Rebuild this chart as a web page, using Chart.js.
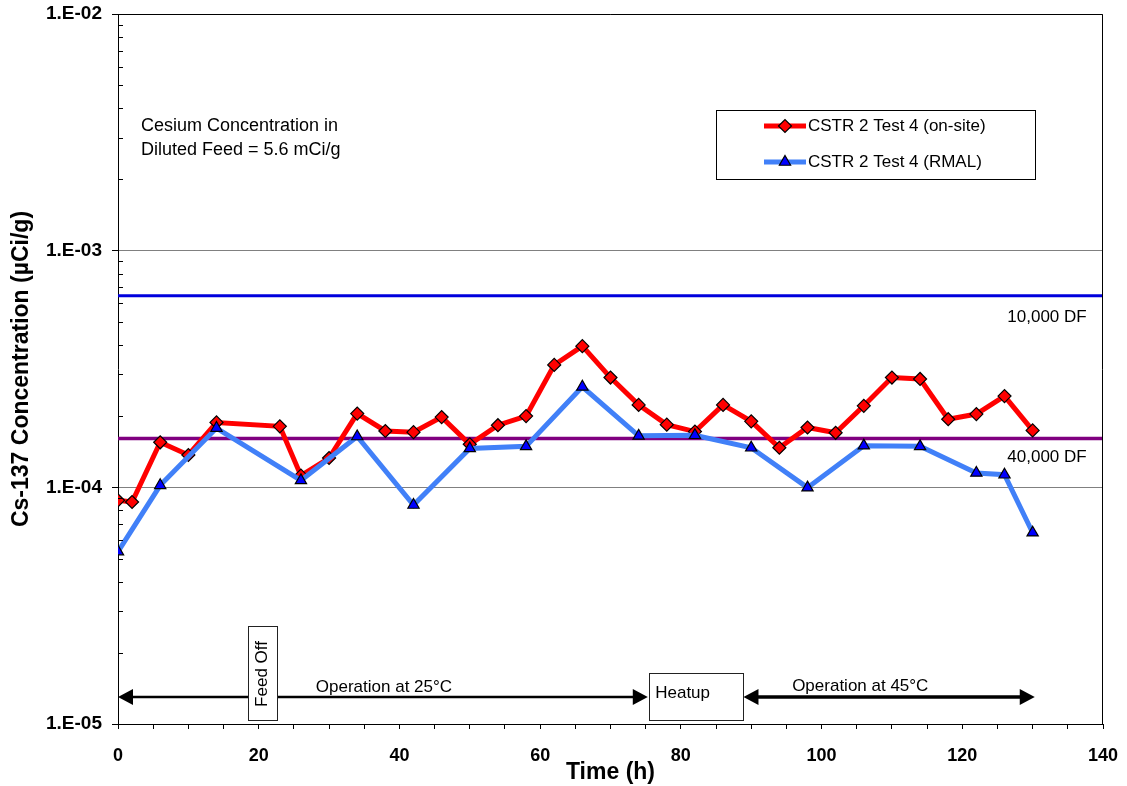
<!DOCTYPE html>
<html>
<head>
<meta charset="utf-8">
<title>Cs-137 Concentration - CSTR 2 Test 4</title>
<script src="https://cdn.jsdelivr.net/npm/chart.js@4.4.0/dist/chart.umd.min.js"></script>
<style>
    body { margin: 0; background: #fff; }
    #wrap { width: 1127px; height: 786px; }
</style>
</head>
<body>
<div id="wrap"><canvas id="chart" width="1127" height="786"></canvas></div>
<script>
// Sample times (h) and Cs-137 concentrations (uCi/g)
const hoursOnsite = [0, 2, 6, 10, 14, 23, 26, 30, 34, 38, 42, 46, 50, 54, 58, 62, 66,
    70, 74, 78, 82, 86, 90, 94, 98, 102, 106, 110, 114, 118, 122, 126, 130];
const onsite = [8.81e-5, 8.67e-5, 1.55e-4, 1.37e-4, 1.88e-4, 1.81e-4, 1.12e-4, 1.33e-4,
    2.05e-4, 1.73e-4, 1.71e-4, 1.98e-4, 1.52e-4, 1.83e-4, 2.00e-4, 3.29e-4, 3.95e-4,
    2.91e-4, 2.23e-4, 1.84e-4, 1.72e-4, 2.23e-4, 1.90e-4, 1.47e-4, 1.79e-4, 1.70e-4,
    2.21e-4, 2.91e-4, 2.87e-4, 1.94e-4, 2.04e-4, 2.43e-4, 1.74e-4];

const hoursRmal = [0, 6, 14, 26, 34, 42, 50, 58, 66, 74, 82, 90, 98, 106, 114, 122, 126, 130];
const rmal = [5.35e-5, 1.02e-4, 1.78e-4, 1.07e-4, 1.64e-4, 8.42e-5, 1.46e-4, 1.49e-4,
    2.66e-4, 1.65e-4, 1.66e-4, 1.47e-4, 9.97e-5, 1.50e-4, 1.49e-4, 1.15e-4, 1.13e-4, 6.43e-5];

const seriesNames = ['CSTR 2 Test 4 (on-site)', 'CSTR 2 Test 4 (RMAL)'];

// decontamination factor reference levels
const dfLevels = [6.45e-4, 1.61e-4];
const dfNames = ['10,000 DF', '40,000 DF'];

const yTicks = [1e-5, 1e-4, 1e-3, 1e-2];
const yTickLabels = ['1.E-05', '1.E-04', '1.E-03', '1.E-02'];
const xMin = 0, xMax = 140;

const FONT = "'Liberation Sans', Arial, sans-serif";
const RED = '#FF0000';
const BLUE_LINE = '#4180F8';
const BLUE_MARK = '#0000FF';
const DF_COLORS = ['#0000DD', '#800080'];

function toPoints(xs, ys) {
    return xs.map((x, i) => ({ x: x, y: ys[i] }));
}

// Extra drawing: frame, minor ticks, notes, arrows and the legend box
const decorPlugin = {
    id: 'decor',
    afterDraw(chart) {
        const ctx = chart.ctx;
        const a = chart.chartArea;
        const xs = chart.scales.x, ys = chart.scales.y;
        const px = v => xs.getPixelForValue(v);
        const py = v => ys.getPixelForValue(v);
        ctx.save();

        // top and right frame
        ctx.strokeStyle = '#000';
        ctx.lineWidth = 1;
        ctx.beginPath();
        ctx.moveTo(Math.round(a.left) + 0.5, Math.round(a.top) + 0.5);
        ctx.lineTo(Math.round(a.right) - 0.5, Math.round(a.top) + 0.5);
        ctx.lineTo(Math.round(a.right) - 0.5, Math.round(a.bottom));
        ctx.stroke();

        // minor log ticks, inside the axis
        ctx.beginPath();
        for (let d = 0; d < yTicks.length - 1; d++) {
            for (let m = 2; m <= 9; m++) {
                const yy = Math.round(py(yTicks[d] * m)) + 0.5;
                ctx.moveTo(a.left, yy);
                ctx.lineTo(a.left + 5, yy);
            }
        }
        ctx.stroke();

        ctx.fillStyle = '#000';
        ctx.textBaseline = 'middle';

        // DF labels
        ctx.font = '17px ' + FONT;
        ctx.textAlign = 'left';
        ctx.fillText(dfNames[0], px(126.4), py(dfLevels[0]) + 22);
        ctx.fillText(dfNames[1], px(126.4), py(dfLevels[1]) + 19);

        // feed note
        ctx.font = '18px ' + FONT;
        ctx.fillText('Cesium Concentration in', 141, 126);
        ctx.fillText('Diluted Feed = 5.6 mCi/g', 141, 150);

        // arrows
        function arrow(x1, x2, y, lw) {
            const head = 15, half = 8;
            ctx.lineWidth = lw;
            ctx.beginPath();
            ctx.moveTo(x1 + head - 2, y);
            ctx.lineTo(x2 - head + 2, y);
            ctx.stroke();
            ctx.beginPath();
            ctx.moveTo(x1, y);
            ctx.lineTo(x1 + head, y - half);
            ctx.lineTo(x1 + head, y + half);
            ctx.closePath();
            ctx.moveTo(x2, y);
            ctx.lineTo(x2 - head, y - half);
            ctx.lineTo(x2 - head, y + half);
            ctx.closePath();
            ctx.fill();
        }
        const arrowY = py(1.30e-5);
        arrow(px(0), px(75.3), arrowY, 2.5);
        arrow(px(88.9), px(130.3), arrowY, 3.5);

        ctx.font = '17px ' + FONT;
        ctx.textAlign = 'center';
        ctx.fillText('Operation at 25°C', px(37.8), arrowY - 10);
        ctx.fillText('Operation at 45°C', px(105.5), arrowY - 11);

        // boxes
        ctx.lineWidth = 1;
        ctx.strokeStyle = '#222';
        ctx.fillStyle = '#fff';
        const fx1 = px(18.5), fx2 = px(22.6), fy1 = 626, fy2 = 720;
        ctx.fillRect(fx1, fy1, fx2 - fx1, fy2 - fy1);
        ctx.strokeRect(Math.round(fx1) + 0.5, fy1 + 0.5, Math.round(fx2 - fx1), fy2 - fy1);
        const hx1 = px(75.5), hx2 = px(88.8), hy1 = 673, hy2 = 720;
        ctx.fillRect(hx1, hy1, hx2 - hx1, hy2 - hy1);
        ctx.strokeRect(Math.round(hx1) + 0.5, hy1 + 0.5, Math.round(hx2 - hx1), hy2 - hy1);

        ctx.fillStyle = '#000';
        ctx.textAlign = 'left';
        ctx.fillText('Heatup', hx1 + 6, 693);
        ctx.save();
        ctx.translate((fx1 + fx2) / 2, 674);
        ctx.rotate(-Math.PI / 2);
        ctx.textAlign = 'center';
        ctx.fillText('Feed Off', 0, 0);
        ctx.restore();

        // legend
        const lx = 716, ly = 110, lw = 319, lh = 69;
        ctx.fillStyle = '#fff';
        ctx.fillRect(lx, ly, lw, lh);
        ctx.strokeStyle = '#000';
        ctx.strokeRect(lx + 0.5, ly + 0.5, lw, lh);
        const rows = [
            { y: 126, line: RED, fill: RED, style: 'rectRot', r: 6.5 },
            { y: 162, line: BLUE_LINE, fill: BLUE_MARK, style: 'triangle', r: 6.5 }
        ];
        ctx.font = '17px ' + FONT;
        rows.forEach((row, i) => {
            ctx.strokeStyle = row.line;
            ctx.lineWidth = 5;
            ctx.beginPath();
            ctx.moveTo(764, row.y);
            ctx.lineTo(806, row.y);
            ctx.stroke();
            ctx.fillStyle = row.fill;
            ctx.strokeStyle = '#000';
            ctx.lineWidth = 1.2;
            Chart.helpers.drawPoint(ctx, { pointStyle: row.style, radius: row.r, borderWidth: 1.2, rotation: 0 }, 785, row.y);
            ctx.fillStyle = '#000';
            ctx.textAlign = 'left';
            ctx.fillText(seriesNames[i], 808, row.y);
        });

        ctx.restore();
    }
};

new Chart(document.getElementById('chart'), {
    type: 'line',
    data: {
        datasets: [
            {
                label: seriesNames[1],
                data: toPoints(hoursRmal, rmal),
                borderColor: BLUE_LINE,
                borderWidth: 5,
                pointStyle: 'triangle',
                pointRadius: 6.5,
                pointBackgroundColor: BLUE_MARK,
                pointBorderColor: '#000',
                pointBorderWidth: 1.2,
                tension: 0,
                order: 0
            },
            {
                label: seriesNames[0],
                data: toPoints(hoursOnsite, onsite),
                borderColor: RED,
                borderWidth: 5,
                pointStyle: 'rectRot',
                pointRadius: 6.5,
                pointBackgroundColor: RED,
                pointBorderColor: '#000',
                pointBorderWidth: 1.2,
                tension: 0,
                order: 1
            },
            {
                label: dfNames[0],
                data: [{ x: xMin, y: dfLevels[0] }, { x: xMax, y: dfLevels[0] }],
                borderColor: DF_COLORS[0],
                borderWidth: 3,
                pointRadius: 0,
                order: 2
            },
            {
                label: dfNames[1],
                data: [{ x: xMin, y: dfLevels[1] }, { x: xMax, y: dfLevels[1] }],
                borderColor: DF_COLORS[1],
                borderWidth: 3.5,
                pointRadius: 0,
                order: 3
            }
        ]
    },
    options: {
        responsive: false,
        animation: false,
        layout: { padding: { top: 14, right: 24, left: 0, bottom: 0 } },
        plugins: {
            legend: { display: false },
            tooltip: { enabled: false }
        },
        scales: {
            x: {
                type: 'linear',
                min: xMin,
                max: xMax,
                afterFit: function(scale) {
                    scale.height = 62;
                    scale.paddingLeft = 0;
                    scale.paddingRight = 0;
                },
                ticks: {
                    stepSize: 5,
                    autoSkip: false,
                    maxRotation: 0,
                    padding: 16,
                    color: '#000',
                    font: { family: FONT, size: 18, weight: 'bold' },
                    callback: function(value) {
                        return value % 20 === 0 ? String(value) : '';
                    }
                },
                grid: {
                    drawOnChartArea: false,
                    drawTicks: true,
                    tickLength: 5,
                    tickColor: '#000'
                },
                border: { display: true, color: '#000', width: 1 },
                title: {
                    display: true,
                    text: 'Time (h)',
                    color: '#000',
                    font: { family: FONT, size: 23, weight: 'bold' },
                    padding: { top: 0, bottom: 0 }
                }
            },
            y: {
                type: 'logarithmic',
                min: yTicks[0],
                max: yTicks[yTicks.length - 1],
                afterFit: function(scale) {
                    scale.width = 118;
                    scale.paddingTop = 0;
                    scale.paddingBottom = 0;
                },
                afterBuildTicks: function(scale) {
                    scale.ticks = yTicks.map(v => ({ value: v }));
                },
                ticks: {
                    padding: 10,
                    color: '#000',
                    font: { family: FONT, size: 19, weight: 'bold' },
                    callback: function(value) {
                        const i = yTicks.findIndex(t => Math.abs(t - value) / t < 1e-6);
                        return i >= 0 ? yTickLabels[i] : '';
                    }
                },
                grid: {
                    color: '#808080',
                    lineWidth: 1,
                    drawTicks: true,
                    tickLength: 6,
                    tickColor: '#000'
                },
                border: { display: true, color: '#000', width: 1 },
                title: {
                    display: true,
                    text: 'Cs-137 Concentration (µCi/g)',
                    color: '#000',
                    font: { family: FONT, size: 23, weight: 'bold' },
                    padding: { top: 8, bottom: 0 }
                }
            }
        }
    },
    plugins: [decorPlugin]
});
</script>
</body>
</html>
